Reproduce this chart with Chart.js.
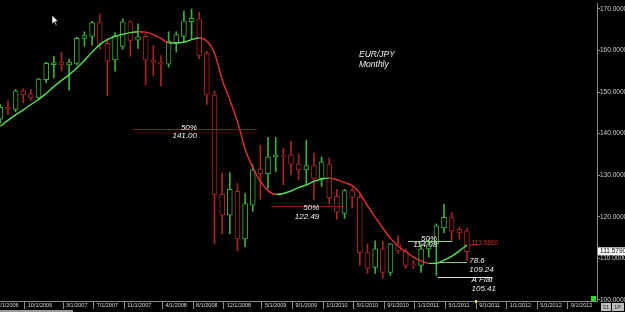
<!DOCTYPE html>
<html><head><meta charset="utf-8">
<script src="https://cdn.jsdelivr.net/npm/chart.js@4.4.0/dist/chart.umd.min.js"></script>
<style>html,body{margin:0;padding:0;background:#000;overflow:hidden}canvas{display:block}</style>
</head><body>
<canvas id="c" width="625" height="312"></canvas>
<script>
// ---- categories (monthly bars) ----
const months = [
 '6/1/2006','7/1/2006','8/1/2006','9/1/2006','10/1/2006','11/1/2006','12/1/2006',
 '1/1/2007','2/1/2007','3/1/2007','4/1/2007','5/1/2007','6/1/2007','7/1/2007','8/1/2007','9/1/2007','10/1/2007','11/1/2007','12/1/2007',
 '1/1/2008','2/1/2008','3/1/2008','4/1/2008','5/1/2008','6/1/2008','7/1/2008','8/1/2008','9/1/2008','10/1/2008','11/1/2008','12/1/2008',
 '1/1/2009','2/1/2009','3/1/2009','4/1/2009','5/1/2009','6/1/2009','7/1/2009','8/1/2009','9/1/2009','10/1/2009','11/1/2009','12/1/2009',
 '1/1/2010','2/1/2010','3/1/2010','4/1/2010','5/1/2010','6/1/2010','7/1/2010','8/1/2010','9/1/2010','10/1/2010','11/1/2010','12/1/2010',
 '1/1/2011','2/1/2011','3/1/2011','4/1/2011','5/1/2011','6/1/2011','7/1/2011','8/1/2011','9/1/2011','10/1/2011','11/1/2011','12/1/2011',
 '1/1/2012','2/1/2012','3/1/2012','4/1/2012','5/1/2012','6/1/2012','7/1/2012','8/1/2012','9/1/2012','10/1/2012','11/1/2012','12/1/2012'
];
// ---- OHLC series (first 62 months) ----
const opens  = [143.5,146.4,145.8,150.3,149.6,148.6,153.0,156.6,157.2,156.5,156.9,162.9,163.4,166.7,161.7,157.7,161.0,166.9,162.5,163.4,157.7,157.2,156.7,161.9,163.4,166.9,167.6,159.3,149.3,125.4,120.4,126.1,114.7,122.8,131.5,130.4,134.4,134.9,134.9,132.7,131.3,132.3,129.2,132.7,124.9,120.8,126.3,124.7,111.4,107.8,112.3,106.6,113.5,111.8,108.7,108.3,112.3,113.5,117.3,119.8,117.0,116.6];
const highs  = [147.0,147.9,150.6,150.8,150.6,153.3,157.2,158.6,159.6,157.9,163.2,164.5,167.0,168.8,162.9,164.3,167.6,167.2,166.4,164.0,161.2,158.8,164.5,164.5,169.5,170.0,169.2,159.8,150.3,130.6,130.6,128.0,125.6,132.5,137.2,139.1,139.1,136.5,138.2,135.1,138.4,135.3,134.4,134.2,126.6,126.6,127.0,125.4,113.5,114.2,114.2,113.6,115.4,112.3,109.5,113.5,114.6,118.3,123.0,121.0,117.6,117.3];
const lows   = [142.5,144.6,145.3,147.4,148.0,148.3,152.2,153.4,155.0,150.5,156.5,161.0,161.2,160.3,149.1,155.0,160.3,158.6,160.5,151.7,153.9,151.5,156.0,159.6,161.9,162.6,158.0,147.0,113.5,115.9,115.9,111.8,112.8,121.3,124.2,126.8,130.8,127.7,130.1,128.9,127.7,124.2,127.3,123.2,119.4,119.6,122.1,108.3,106.4,106.4,105.2,105.9,111.2,107.6,107.5,106.6,110.3,105.9,116.1,114.2,114.6,109.5];
const closes = [146.3,145.9,150.3,149.4,148.6,153.1,156.9,157.0,156.5,157.2,162.9,163.6,166.7,161.7,157.4,163.6,166.9,162.4,163.3,157.7,157.2,156.7,162.2,163.8,167.1,167.7,158.8,149.3,125.4,120.4,126.6,114.7,123.2,131.3,130.4,134.4,134.9,134.5,132.6,131.3,132.3,129.2,133.2,124.6,121.1,126.3,124.7,111.4,107.6,112.3,106.6,113.5,111.8,108.3,108.4,112.3,113.5,117.8,119.9,116.6,116.1,111.6];
// ---- smoothed average line ----
const maValues = [141.8,143.2,144.5,145.7,147.0,148.2,149.7,151.3,152.8,154.2,155.8,157.6,159.6,161.4,162.6,163.4,163.9,164.3,164.5,164.4,163.8,162.9,161.8,161.8,162.0,162.6,163.0,162.3,159.4,153.0,148.1,142.9,136.3,131.9,128.5,126.3,125.4,125.6,126.2,127.0,127.7,128.5,129.1,129.3,128.9,128.2,127.5,125.7,122.6,119.9,117.3,114.8,113.0,111.6,110.3,109.4,108.8,108.8,109.6,110.5,111.8,113.2];
// ---- tick labels ----
const xTickLabels = ['6/1/2006','10/1/2006','3/1/2007','7/1/2007','11/1/2007','4/1/2008','8/1/2008','12/1/2008','5/1/2009','9/1/2009','1/1/2010','5/1/2010','9/1/2010','1/1/2011','5/1/2011','9/1/2011','1/1/2012','5/1/2012','9/1/2012'];
const yTickValues = [100,110,120,130,140,150,160,170];
// ---- retracement levels ----
const levelNames  = ['50%','50%','50%','78.6','A Flat'];
const levelValues = [141.00,122.49,114.08,109.24,105.41];
const lastPrice = 111.5790;
const alertPrice = 113.5860;

const GREEN = '#3fae3f', RED = '#a82424', LGREEN = '#55e255', LRED = '#e03232';
const idx = opens.map((_, i) => i);
const up = i => closes[i] >= opens[i];

const levelStyle = [
  {from:17.35, to:33.55, color:'#8a1c1c', tx:25.7, align:'right', d1:-2, d2:6.5},
  {from:35.4,  to:44.9,  color:'#8a1c1c', tx:41.7, align:'right', d1:1.5, d2:10.5},
  {from:53.3,  to:59.05, color:'#8fcf8f', tx:57.1, align:'right', d1:-2.5, d2:3.5},
  {from:57.2,  to:61.0,  color:'#88cc88', tx:61.3, align:'left',  d1:-2, d2:7},
  {from:57.2,  to:64.3,  color:'#e6e6e6', tx:61.6, align:'left',  d1:2, d2:11}
];

const overlay = {
  id:'overlay',
  beforeDraw(chart){
    const c = chart.ctx; c.save(); c.fillStyle='#000'; c.fillRect(0,0,chart.width,chart.height); c.restore();
  },
  afterDatasetsDraw(chart){
    const c = chart.ctx, xs = chart.scales.x, ys = chart.scales.y;
    c.save();
    // retracement lines + labels
    levelValues.forEach((v,k)=>{
      const s = levelStyle[k], y = Math.round(ys.getPixelForValue(v))+0.5;
      c.strokeStyle = s.color; c.lineWidth = 1;
      c.beginPath(); c.moveTo(xs.getPixelForValue(s.from), y); c.lineTo(xs.getPixelForValue(s.to), y); c.stroke();
      c.fillStyle = '#f2f2f2'; c.font = 'italic 8px "Liberation Sans", Arial, sans-serif';
      c.textAlign = s.align; c.textBaseline = 'middle';
      const tx = xs.getPixelForValue(s.tx);
      c.fillText(levelNames[k], tx, y + s.d1);
      c.fillText(v.toFixed(2), tx, y + s.d2);
    });
    // alert price text
    const ay = ys.getPixelForValue(alertPrice);
    c.strokeStyle = '#c02a2a'; c.beginPath(); c.moveTo(xs.getPixelForValue(61.3), ay+1.5); c.lineTo(xs.getPixelForValue(62.6), ay+1.5); c.stroke();
    c.fillStyle = '#c83030'; c.font = '6.5px "Liberation Sans", Arial, sans-serif'; c.textAlign='left'; c.textBaseline='middle';
    c.fillText(alertPrice.toFixed(4), xs.getPixelForValue(61.6), ay);
    // title
    c.fillStyle = '#f2f2f2'; c.font = 'italic 8.5px "Liberation Sans", Arial, sans-serif';
    c.fillText('EUR/JPY', 359, 55); c.fillText('Monthly', 359, 64.5);
    // last price tag on axis
    const ly = ys.getPixelForValue(lastPrice);
    c.fillStyle = '#fff'; c.fillRect(598, ly-4.5, 27, 8);
    c.fillStyle = '#000'; c.font = '6.5px "Liberation Sans", Arial, sans-serif'; c.textAlign='left';
    c.fillText(lastPrice.toFixed(4), 600, ly-0.5);
    // chrome details
    c.fillStyle = '#22dd22'; c.fillRect(591, 296, 5, 5);
    c.fillStyle = '#e8e060'; c.fillRect(475, 300, 2, 3);
    c.fillStyle = '#9a9a9a'; c.fillRect(0, 310, 73, 2);
    c.fillStyle = '#bdbdbd'; c.fillRect(601, 303, 10, 8); c.fillRect(612, 303, 12, 8);
    c.fillStyle = '#333'; c.font = '6px "Liberation Sans", Arial, sans-serif';
    c.fillText('31', 602.5, 307.5); c.fillText('1P', 614, 307.5);
    // mouse pointer
    c.fillStyle='#fff'; c.strokeStyle='#000'; c.lineWidth=0.6;
    c.beginPath(); c.moveTo(52,15); c.lineTo(52,24); c.lineTo(54.2,22); c.lineTo(55.8,25.5); c.lineTo(57,25); c.lineTo(55.4,21.6); c.lineTo(58.2,21.6); c.closePath(); c.fill(); c.stroke();
    c.restore();
  }
};

Chart.defaults.font.family = '"Liberation Sans", Arial, sans-serif';

new Chart(document.getElementById('c'), {
  type: 'bar',
  data: {
    datasets: [
      { type:'bar', label:'wick', order:3, grouped:false, barThickness:1,
        data: idx.map(i => ({x:i, y:[lows[i], highs[i]]})),
        backgroundColor: idx.map(i => up(i) ? GREEN : RED), borderWidth:0 },
      { type:'bar', label:'body', order:2, grouped:false, barThickness:5,
        data: idx.map(i => ({x:i, y:[opens[i], closes[i]]})),
        backgroundColor:'#000', borderColor: idx.map(i => up(i) ? GREEN : RED), borderWidth:1, borderSkipped:false },
      { type:'line', label:'avg', order:1,
        data: idx.map(i => ({x:i, y:maValues[i]})),
        borderWidth:1.4, pointRadius:0, cubicInterpolationMode:'monotone',
        segment:{ borderColor: s => s.p1.parsed.y >= s.p0.parsed.y ? LGREEN : LRED } }
    ]
  },
  options: {
    responsive:false, animation:false,
    layout:{ padding:0 },
    plugins:{ legend:{display:false}, tooltip:{enabled:false} },
    scales: {
      x: {
        type:'linear', min:-0.04, max:78, offset:false,
        afterBuildTicks: s => { s.ticks = xTickLabels.map(l => ({value: months.indexOf(l) - 0.8})); },
        afterFit: s => { s.height = 11; },
        grid:{ offset:false, drawOnChartArea:false, drawTicks:true, tickLength:8, color:'#8a8a8a' },
        border:{ display:true, color:'#8a8a8a' },
        ticks:{ autoSkip:false, maxRotation:0, align:'start', labelOffset:3, padding:-6.8,
          color:'#d8d8d8', font:{size:5.5},
          callback: v => months[Math.round(v + 0.8)] }
      },
      y: {
        position:'right', min:99.75, max:171.2,
        afterBuildTicks: s => { s.ticks = yTickValues.map(v => ({value:v})); },
        afterFit: s => { s.width = 28; },
        grid:{ drawOnChartArea:false, drawTicks:true, tickLength:3, color:'#8a8a8a' },
        border:{ display:true, color:'#8a8a8a' },
        ticks:{ padding:0, color:'#cfcfcf', font:{size:6.5}, callback: v => Number(v).toFixed(4) }
      }
    }
  },
  plugins:[overlay]
});
</script>
</body></html>
